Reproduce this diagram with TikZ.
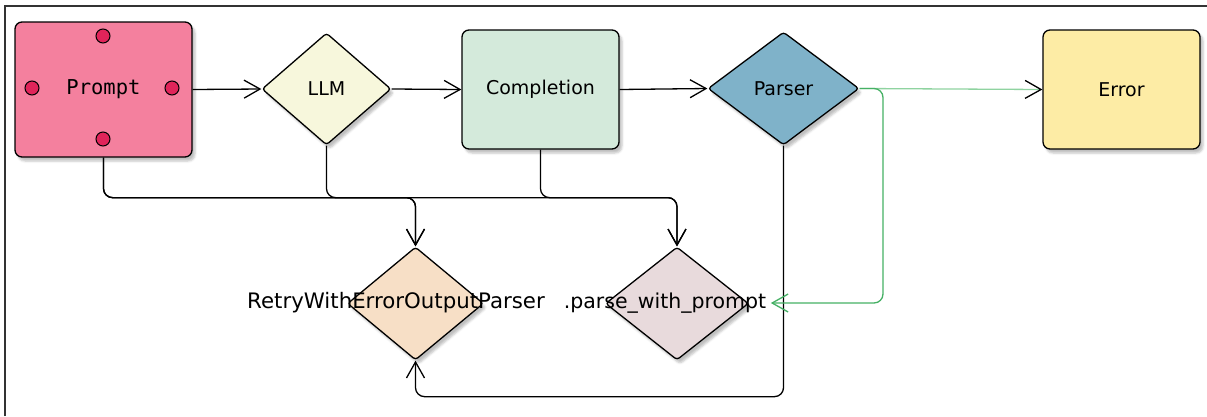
\documentclass[tikz,border=0pt]{standalone}
\usepackage{fontspec}
\setmainfont{DejaVu Sans}
\newfontfamily\promptfont{DejaVu Sans Mono}
\usepackage{tikz}
\usetikzlibrary{arrows.meta,shapes.geometric,shadows.blur,calc}

\definecolor{promptpink}{HTML}{F4809E}
\definecolor{dotred}{HTML}{E0245A}
\definecolor{llmcream}{HTML}{F7F7DC}
\definecolor{complgreen}{HTML}{D4EADB}
\definecolor{parserblue}{HTML}{7FB2C9}
\definecolor{erroryellow}{HTML}{FDECA5}
\definecolor{retrypeach}{HTML}{F7DFC6}
\definecolor{parsepink}{HTML}{E8DADC}
\definecolor{okgreen}{HTML}{45B064}
\definecolor{lightgreen}{HTML}{8FD3A0}

\begin{document}
\begin{tikzpicture}[x=1pt, y=-1pt, line width=1.3pt,
  font=\fontsize{19}{22}\selectfont,
  box/.style={rectangle, draw, rounded corners=7pt, minimum width=157pt, minimum height=119pt,
    blur shadow={shadow xshift=3pt, shadow yshift=-4pt, shadow opacity=25}},
  dia/.style={diamond, draw, rounded corners=3pt, inner sep=0pt,
    blur shadow={shadow xshift=3pt, shadow yshift=-4pt, shadow opacity=25}},
  dot/.style={circle, draw, fill=dotred, line width=1pt, minimum size=14pt, inner sep=0pt},
  lbl/.style={inner sep=4pt, font=\fontsize{20.5}{22}\selectfont},
  arr/.style={-{Straight Barb[length=16pt, width=18pt, line width=1.3pt]}, rounded corners=9pt}]
\useasboundingbox (0,0) rectangle (1207,416);
\draw[line width=1.6pt, black!80] (5,416) -- (5,6) -- (1207,6);

% top row
\node[box, fill=promptpink, minimum width=177pt, minimum height=135pt] (prompt) at (103.5,89.5) {\promptfont\fontsize{20.5}{22}\selectfont Prompt};
\node[dot] (dottop) at (103,36) {};
\node[dot] (dotleft) at (32,88) {};
\node[dot] (dotright) at (172,88) {};
\node[dot] (dotbottom) at (103,139) {};
\node[dia, fill=llmcream, minimum width=129pt, minimum height=112pt] (llm) at (326.5,89) {};
\node (llmtext) at (llm) {LLM};
\node[box, fill=complgreen] (completion) at (540.5,89.5) {Completion};
\node[dia, fill=parserblue, minimum width=151pt, minimum height=113pt] (parser) at (783.5,88.5) {};
\node (parsertext) at (parser) {Parser};
\node[box, fill=erroryellow] (error) at (1121.5,89.5) {Error};

% bottom row
\node[dia, fill=retrypeach, minimum width=136pt, minimum height=113pt] (retry) at (415.5,303.5) {};
\node[lbl, font=\fontsize{21.3}{22}\selectfont] (retrytext) at (396,303) {RetryWithErrorOutputParser};
\node[dia, fill=parsepink, minimum width=143pt, minimum height=113pt] (parse) at (677,303.5) {};
\node[lbl] (parsetext) at (665,303) {.parse\_with\_prompt};

% connectors
\path[arr]
(prompt.east) edge (llm.west)
(llm.east) edge (completion.west)
(completion.west -| completion.east) edge (parser.west);
\draw[arr] (prompt.south) -- ++(0,40) -| (retry.north);
\draw[arr] (prompt.south) -- ++(0,40) -| (parse.north);
\draw[arr] (llm.south) -- ++(0,52) -| (retry.north);
\draw[arr] (completion.south) -- ++(0,48) -| (parse.north);
\draw[arr] (parser.south) |- ([yshift=-36pt]retry.south) -- (retry.south);
\draw[lightgreen, -{Straight Barb[length=16pt, width=18pt, line width=1.3pt, color=black]}] (parser.east) -- (error.west);
\draw[arr, okgreen] (parser.east) -- (883,88.5) -- (883,303) -- (parsetext.east);
\end{tikzpicture}
\end{document}
